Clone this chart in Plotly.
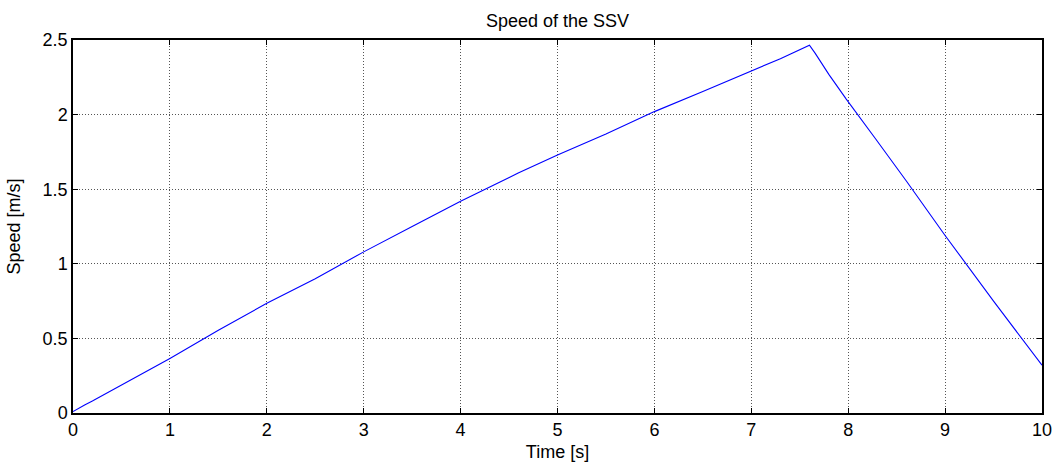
import plotly.graph_objects as go

time_s = [0.0, 0.05, 0.12, 0.2, 0.3, 0.4, 0.52, 0.6, 0.8, 1.0, 1.5, 2.0, 2.5, 3.0, 3.5, 4.0, 4.6, 5.0, 5.5, 6.0, 6.5, 7.0, 7.3, 7.6, 7.66, 7.8, 7.98, 8.28, 8.6, 9.0, 9.5, 10.0]
speed = [0.01, 0.03, 0.054, 0.08, 0.115, 0.15, 0.195, 0.22, 0.29, 0.365, 0.555, 0.735, 0.9, 1.08, 1.25, 1.42, 1.61, 1.73, 1.87, 2.02, 2.155, 2.29, 2.375, 2.465, 2.41, 2.27, 2.104, 1.84, 1.555, 1.19, 0.75, 0.32]

title_text = "Speed of the SSV"
x_label = "Time [s]"
y_label = "Speed [m/s]"
x_ticks = [0, 1, 2, 3, 4, 5, 6, 7, 8, 9, 10]
y_ticks = [0, 0.5, 1, 1.5, 2, 2.5]

fig = go.Figure()
fig.add_trace(go.Scatter(x=time_s, y=speed, mode="lines",
                         line=dict(color="#0000ff", width=1.1), showlegend=False))

font = dict(family="Liberation Sans, Arial, sans-serif", size=18, color="black")
axis_common = dict(showline=True, linecolor="black", linewidth=1.5, mirror="ticks",
                   ticks="inside", ticklen=5, tickcolor="black", tickwidth=1,
                   showgrid=True, gridcolor="#555555", gridwidth=1, griddash="1px,2px",
                   zeroline=False, tickfont=font, automargin=False)

fig.update_xaxes(range=[0, 10], tickvals=x_ticks, ticktext=[str(v) for v in x_ticks],
                 title=dict(text=x_label, font=font, standoff=6), **axis_common)
fig.update_yaxes(range=[0, 2.5], tickvals=y_ticks, ticktext=["0", "0.5", "1", "1.5", "2", "2.5"],
                 title=dict(text=y_label, font=font, standoff=17), **axis_common)

fig.update_layout(
    width=1055, height=468,
    margin=dict(l=73, r=13, t=40, b=55, autoexpand=False),
    paper_bgcolor="white", plot_bgcolor="white",
    title=dict(text=title_text, x=0.5, xref="paper", y=1 - 21 / 468, yanchor="middle",
               font=dict(family="Liberation Sans, Arial, sans-serif", size=18, color="black")),
    font=font,
)

fig.write_html("out.html", config={"displayModeBar": False},
               post_script="document.body.style.margin='0';document.body.style.overflow='hidden';")
